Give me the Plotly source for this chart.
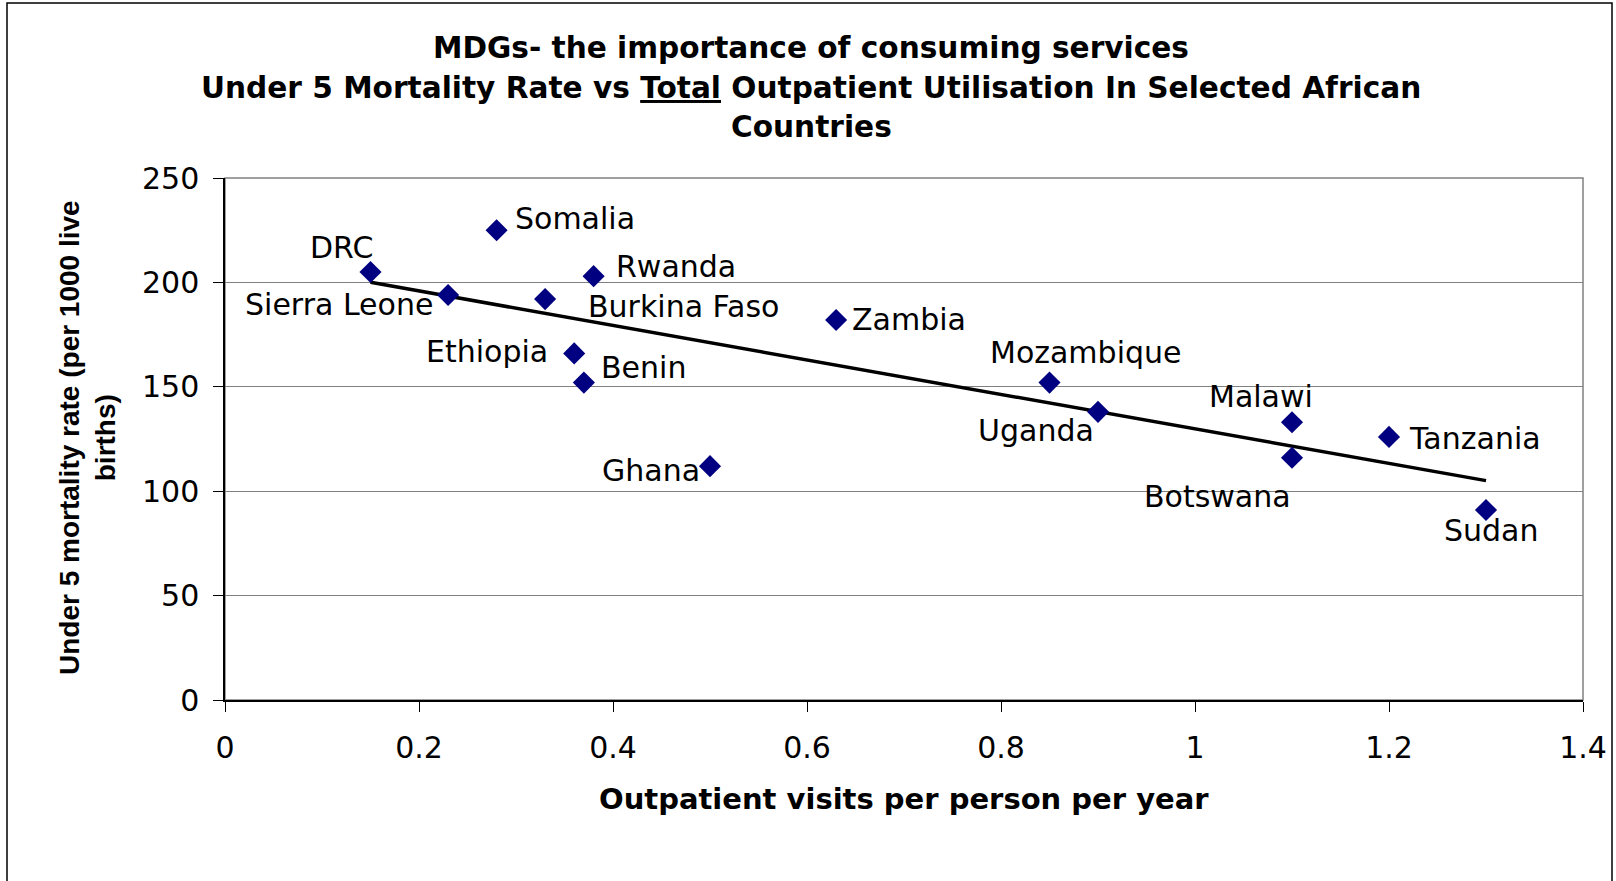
import numpy as np
import plotly.graph_objects as go

# ---------------- data ----------------
countries = ["DRC", "Sierra Leone", "Somalia", "Burkina Faso", "Rwanda", "Ethiopia",
             "Benin", "Ghana", "Zambia", "Mozambique", "Uganda", "Malawi",
             "Botswana", "Tanzania", "Sudan"]
visits = [0.15, 0.23, 0.28, 0.33, 0.38, 0.36, 0.37, 0.50, 0.63, 0.85, 0.90, 1.10, 1.10, 1.20, 1.30]
u5mr = [205, 194, 225, 192, 203, 166, 152, 112, 182, 152, 138, 133, 116, 126, 91]

x_ticks = [0, 0.2, 0.4, 0.6, 0.8, 1.0, 1.2, 1.4]
x_tick_labels = ["0", "0.2", "0.4", "0.6", "0.8", "1", "1.2", "1.4"]
y_ticks = [0, 50, 100, 150, 200, 250]

# label offsets in pixels (layout only)
label_offsets = {
    "DRC": (-29, 24), "Sierra Leone": (-109, -10), "Somalia": (78, 12),
    "Rwanda": (82, 10), "Burkina Faso": (138, -7), "Zambia": (73, 0),
    "Ethiopia": (-87, 2), "Benin": (60, 15), "Ghana": (-59, -4),
    "Mozambique": (36, 30), "Uganda": (-62, -19), "Malawi": (-31, 26),
    "Botswana": (-75, -39), "Tanzania": (86, -2), "Sudan": (5, -21),
}

# ---------------- geometry ----------------
W, H = 1616, 881
L, R, T, B = 225, 1583, 178, 700
pw, ph = R - L, B - T

def px(xp):
    return (xp - L) / pw

def py(yp):
    return (B - yp) / ph

FONT = "DejaVu Sans, Arial, sans-serif"
FONT_NARROW = "Liberation Sans, Arial, sans-serif"

fig = go.Figure()

# trendline (linear fit of the data)
slope, intercept = np.polyfit(visits, u5mr, 1)
tx = [min(visits), max(visits)]
ty = [slope * v + intercept for v in tx]
fig.add_trace(go.Scatter(x=tx, y=ty, mode="lines",
                         line=dict(color="black", width=3.5), hoverinfo="skip",
                         showlegend=False))

fig.add_trace(go.Scatter(x=visits, y=u5mr, mode="markers", text=countries,
                         marker=dict(symbol="diamond", size=17, color="#000080",
                                     line=dict(width=0)),
                         showlegend=False))

annotations = []
for c, xv, yv in zip(countries, visits, u5mr):
    dx, dy = label_offsets[c]
    annotations.append(dict(x=xv, y=yv, xref="x", yref="y", text=c, showarrow=False,
                            xanchor="center", yanchor="middle", xshift=dx, yshift=dy,
                            font=dict(family=FONT, size=30, color="black")))

# titles
title_lines = ["<b>MDGs- the importance of consuming services</b>",
               "<b>Under 5 Mortality Rate vs <u>Total</u> Outpatient Utilisation In Selected African</b>",
               "<b>Countries</b>"]
for line, yc in zip(title_lines, [48, 88, 127]):
    annotations.append(dict(x=px(811), y=py(yc), xref="paper", yref="paper", text=line,
                            showarrow=False, xanchor="center", yanchor="middle",
                            font=dict(family=FONT, size=29.6, color="black")))

annotations.append(dict(x=px(904), y=py(799), xref="paper", yref="paper",
                        text="<b>Outpatient visits per person per year</b>", showarrow=False,
                        xanchor="center", yanchor="middle",
                        font=dict(family=FONT, size=29, color="black")))
annotations.append(dict(x=px(87), y=py(438), xref="paper", yref="paper",
                        text="<b>Under 5 mortality rate (per 1000 live<br>births)</b>",
                        showarrow=False, textangle=-90, xanchor="center", yanchor="middle",
                        font=dict(family=FONT_NARROW, size=28, color="black")))

shapes = [
    # outer chart border
    dict(type="rect", xref="paper", yref="paper", x0=px(7), x1=px(1612), y0=py(3), y1=py(890),
         line=dict(color="black", width=1.5), fillcolor="rgba(0,0,0,0)", layer="below"),
    # plot area border (gray)
    dict(type="rect", xref="paper", yref="paper", x0=0, x1=1, y0=0, y1=1,
         line=dict(color="#808080", width=1.5), fillcolor="rgba(0,0,0,0)", layer="below"),
]

fig.update_layout(
    width=W, height=H,
    margin=dict(l=L, r=W - R, t=T, b=H - B, autoexpand=False),
    paper_bgcolor="white", plot_bgcolor="white",
    annotations=annotations, shapes=shapes,
    font=dict(family=FONT, color="black"),
    xaxis=dict(range=[0, 1.4], tickvals=x_ticks, ticktext=x_tick_labels,
               showgrid=False, zeroline=False, showline=True, linecolor="black", linewidth=1.5,
               ticks="outside", ticklen=10, tickcolor="black", tickwidth=1,
               tickfont=dict(family=FONT, size=30, color="black"), ticklabelstandoff=10),
    yaxis=dict(range=[0, 250], tickvals=y_ticks,
               showgrid=True, gridcolor="#808080", gridwidth=1, zeroline=False,
               showline=True, linecolor="black", linewidth=1.5,
               ticks="outside", ticklen=10, tickcolor="black", tickwidth=1,
               tickfont=dict(family=FONT, size=30, color="black"), ticklabelstandoff=8),
)

fig.write_html("out.html")
